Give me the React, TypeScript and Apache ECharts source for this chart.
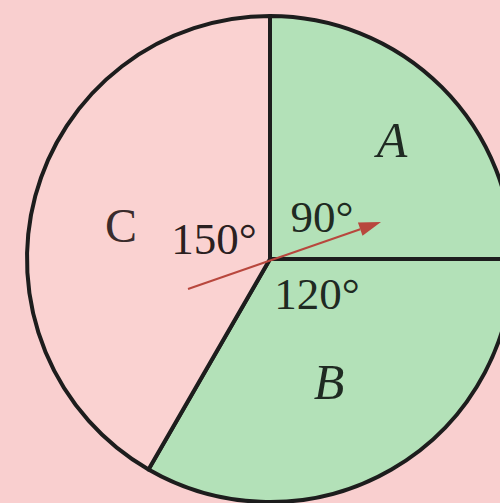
import React, { useEffect, useRef } from "react";
import * as echarts from "echarts";

const sectorNames = ["A", "B", "C"];
const sectorAngles = [90, 120, 150];
const sectorColors = ["#b3e1b8", "#b3e1b8", "#fad2d1"];
const angleLabels = ["90°", "120°", "150°"];

export default function App() {
  const ref = useRef<HTMLDivElement>(null);
  useEffect(() => {
    if (!ref.current) return;
    const chart = echarts.init(ref.current, null, { renderer: "svg" });
    const cx = 270, cy = 259, r = 243;
    const tip = [381, 222], tail = [188, 289];
    const dx = tip[0] - tail[0], dy = tip[1] - tail[1];
    const len = Math.hypot(dx, dy);
    const ux = dx / len, uy = dy / len;
    const nx = -uy, ny = ux;
    const hl = 22, hw = 7;
    const bx = tip[0] - hl * ux, by = tip[1] - hl * uy;
    const z = 100;
    const serif = "'Liberation Serif', 'DejaVu Serif', serif";
    chart.setOption({
      animation: false,
      backgroundColor: "#f9cfcf",
      series: [
        {
          type: "pie",
          center: [cx, cy],
          radius: [0, r],
          startAngle: 90,
          clockwise: true,
          silent: true,
          label: { show: false },
          labelLine: { show: false },
          itemStyle: { borderColor: "#1d1d1d", borderWidth: 4 },
          data: sectorNames.map((n, i) => ({
            name: n,
            value: sectorAngles[i],
            itemStyle: { color: sectorColors[i] },
          })),
        },
      ],
      graphic: [
        { type: "text", z, x: 392, y: 140, style: { text: sectorNames[0], font: `italic 50px ${serif}`, fill: "#1f2a22", align: "center", verticalAlign: "middle" } },
        { type: "text", z, x: 329, y: 382, style: { text: sectorNames[1], font: `italic 50px ${serif}`, fill: "#1f2a22", align: "center", verticalAlign: "middle" } },
        { type: "text", z, x: 121, y: 225, style: { text: sectorNames[2], font: `48px ${serif}`, fill: "#3a2c2c", align: "center", verticalAlign: "middle" } },
        { type: "text", z, x: 322, y: 217, style: { text: angleLabels[0], font: `45px ${serif}`, fill: "#1f2a22", align: "center", verticalAlign: "middle" } },
        { type: "text", z, x: 317, y: 294, style: { text: angleLabels[1], font: `45px ${serif}`, fill: "#1f2a22", align: "center", verticalAlign: "middle" } },
        { type: "text", z, x: 214, y: 239, style: { text: angleLabels[2], font: `45px ${serif}`, fill: "#2a2020", align: "center", verticalAlign: "middle" } },
        { type: "line", z, shape: { x1: tail[0], y1: tail[1], x2: bx, y2: by }, style: { stroke: "#b8473d", lineWidth: 2 } },
        { type: "polygon", z, shape: { points: [tip, [bx + hw * nx, by + hw * ny], [bx - hw * nx, by - hw * ny]] }, style: { fill: "#b8473d" } },
      ],
    });
    return () => chart.dispose();
  }, []);
  return <div ref={ref} style={{ position: "fixed", left: 0, top: 0, width: 500, height: 503 }} />;
}
